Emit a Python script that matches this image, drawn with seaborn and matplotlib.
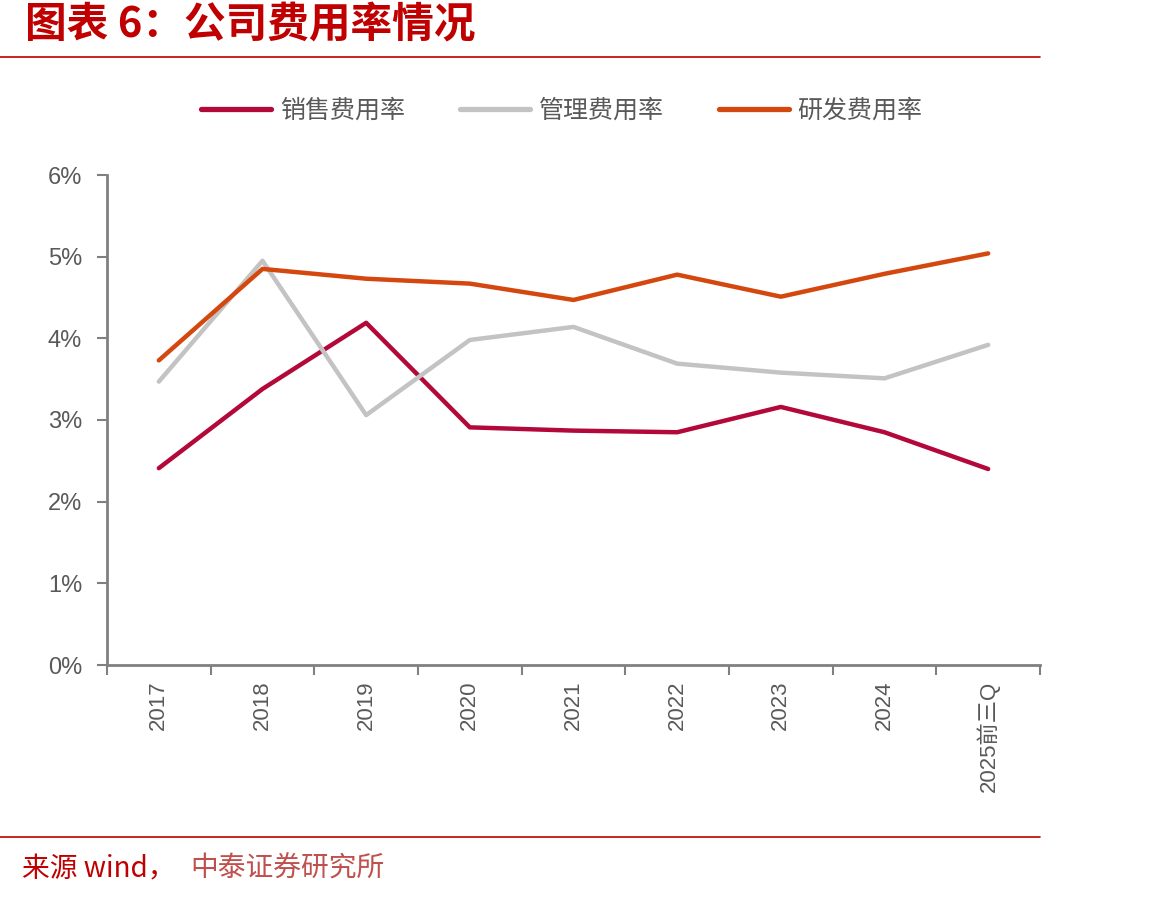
import pandas as pd
import seaborn as sns
import matplotlib.pyplot as plt
from matplotlib.lines import Line2D
from matplotlib.ticker import FixedLocator, PercentFormatter

# 数据
years = ['2017', '2018', '2019', '2020', '2021', '2022', '2023', '2024', '2025前三Q']
sales = [2.41, 3.38, 4.19, 2.91, 2.87, 2.85, 3.16, 2.85, 2.40]
admin = [3.47, 4.95, 3.06, 3.98, 4.14, 3.69, 3.58, 3.51, 3.92]
rnd = [3.73, 4.85, 4.73, 4.67, 4.47, 4.78, 4.51, 4.79, 5.04]
names = ['销售费用率', '管理费用率', '研发费用率']
colors = ['#B3083A', '#C3C3C3', '#D4470E']

df = pd.DataFrame({'年份': years * 3,
                   '费用率': sales + admin + rnd,
                   '类别': [n for n in names for _ in years]})

sns.set_style('white')
plt.rcParams['font.family'] = ['Noto Sans CJK SC', 'DejaVu Sans']

fig = plt.figure(figsize=(11.72, 9.01), dpi=100)
ax = fig.add_axes([107 / 1172, 1 - 665 / 901, 933 / 1172, 490 / 901])

sns.lineplot(data=df, x='年份', y='费用率', hue='类别', palette=colors,
             linewidth=3.2, sort=False, legend=False, ax=ax)

ax.set_xlim(-0.5, len(years) - 0.5)
ax.set_ylim(0, 6)
ax.yaxis.set_major_formatter(PercentFormatter(decimals=0))
ax.set_xticks(range(len(years)))
ax.set_xticklabels(years, rotation=90, fontsize=16, color='#595959',
                   family=['Liberation Sans', 'Noto Sans CJK SC'])
ax.xaxis.set_minor_locator(FixedLocator([i - 0.5 for i in range(len(years) + 1)]))
ax.tick_params(axis='x', which='both', bottom=True)
ax.tick_params(axis='x', which='major', length=0, pad=11)
ax.tick_params(axis='x', which='minor', length=7, width=1.5, color='#808080', direction='out')
ax.tick_params(axis='y', left=True, length=7, width=1.5, color='#808080', direction='out',
               labelsize=17, labelcolor='#595959', pad=11)
for lab in ax.get_yticklabels():
    lab.set_family(['Liberation Sans', 'DejaVu Sans'])
ax.set_xlabel('')
ax.set_ylabel('')
for s in ['top', 'right']:
    ax.spines[s].set_visible(False)
for s in ['left', 'bottom']:
    ax.spines[s].set_color('#808080')
    ax.spines[s].set_linewidth(2)

# 图例
handles = [Line2D([], [], color=c, linewidth=3.8) for c in colors]
fig.legend(handles, names, loc='center', bbox_to_anchor=(562 / 1172, 1 - 111 / 901),
           ncol=3, frameon=False, fontsize=18, handlelength=2.8, columnspacing=2.2,
           labelcolor='#595959', handletextpad=0.35)

# 标题与来源
fig.text(25 / 1172, 1 - 25 / 901, '图表 6：公司费用率情况', fontsize=30, color='#C00000',
         fontweight='bold', fontstyle='italic', va='center', ha='left')
fig.add_artist(Line2D([0, 1040 / 1172], [1 - 57 / 901] * 2, color='#C00000', linewidth=1.2))
fig.add_artist(Line2D([0, 1040 / 1172], [1 - 837 / 901] * 2, color='#C00000', linewidth=1.2))
fig.text(22 / 1172, 1 - 869 / 901, '来源 wind，', fontsize=20, color='#C00000',
         va='center', ha='left')
fig.text(190 / 1172, 1 - 869 / 901, '中泰证券研究所', fontsize=20, color='#C0504D',
         va='center', ha='left')

fig.savefig('out.png', dpi=100)
